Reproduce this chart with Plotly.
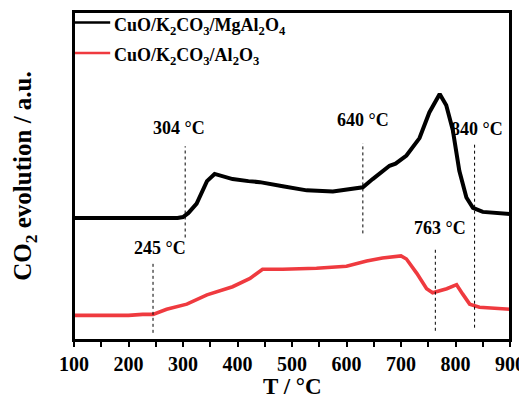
import plotly.graph_objects as go

# ---- data ----
T_black = [100, 150, 200, 250, 290, 300, 310, 325, 344, 358, 370, 391, 420, 441, 483, 527,
           575, 606, 630, 648, 679, 690, 710, 734, 752, 771, 783, 795, 807, 820, 832, 850, 893, 900]
y_black = [119, 119, 119, 119, 119, 120, 124, 133, 155, 162, 160, 157, 155, 154, 150, 146,
           145, 147, 149, 157, 170, 172, 180, 197, 222, 240, 229, 205, 165, 139, 129, 125, 123, 123]

T_red = [100, 150, 200, 226, 245, 270, 307, 344, 391, 423, 446, 483, 545, 600, 637, 666,
         692, 700, 710, 729, 747, 758, 784, 802, 813, 826, 844, 886, 900]
y_red = [24, 24, 24, 25, 25, 30, 35, 44, 52, 60, 69, 69, 70, 72, 77, 80,
         82, 82, 79, 65, 50, 46, 50, 54, 45, 35, 32, 30, 30]

series_names = ["CuO/K<sub>2</sub>CO<sub>3</sub>/MgAl<sub>2</sub>O<sub>4</sub>",
                "CuO/K<sub>2</sub>CO<sub>3</sub>/Al<sub>2</sub>O<sub>3</sub>"]

# marker temperatures (dotted guide lines) and their labels
marker_T = [304, 630, 835, 245, 763]
marker_y0 = [100, 104, 12, 7, 9]
marker_y1 = [189, 192, 192, 77, 89]
label_text = ["304 °C", "640 °C", "840 °C", "245 °C", "763 °C"]
label_T = [293, 630, 840, 257, 772]
label_y = [207, 215, 206, 90, 109]

x_ticks = [100, 200, 300, 400, 500, 600, 700, 800, 900]
x_title = "T / °C"
y_title = "CO<sub>2</sub> evolution / a.u."

FONT = "Liberation Serif, Times New Roman, serif"
BLACK = "#000000"
RED = "#ef3a3f"
colors = [BLACK, RED]

fig = go.Figure()
fig.add_trace(go.Scatter(x=T_black, y=y_black, mode="lines", name=series_names[0],
                         line=dict(color=BLACK, width=4), showlegend=False))
fig.add_trace(go.Scatter(x=T_red, y=y_red, mode="lines", name=series_names[1],
                         line=dict(color=RED, width=3.6), showlegend=False))

for t, a, b in zip(marker_T, marker_y0, marker_y1):
    fig.add_trace(go.Scatter(x=[t, t], y=[a, b], mode="lines", showlegend=False,
                             line=dict(color=BLACK, width=1, dash="dot"), hoverinfo="skip"))

for txt, t, yv in zip(label_text, label_T, label_y):
    fig.add_annotation(x=t, y=yv, text=txt, showarrow=False,
                       font=dict(family=FONT, size=18, color=BLACK, weight="bold"))

# legend (drawn as key lines + text at the top-left corner of the plot)
legend_rows = [0.968, 0.875]
for name, col, ly in zip(series_names, colors, legend_rows):
    fig.add_shape(type="line", xref="paper", yref="paper", x0=0, x1=0.083, y0=ly, y1=ly,
                  line=dict(color=col, width=2.5))
    fig.add_annotation(xref="paper", yref="paper", x=0.088, y=ly - 0.012, xanchor="left",
                       yanchor="middle", text=name, showarrow=False,
                       font=dict(family=FONT, size=18, color=BLACK, weight="bold"))

# x-axis title placed near the bottom edge of the figure
fig.add_annotation(xref="paper", yref="paper", x=0.5, y=-0.183, xanchor="center",
                   yanchor="bottom", text=x_title, showarrow=False, borderpad=0,
                   font=dict(family=FONT, size=23, color=BLACK, weight="bold"))

# closed frame round the plot area
fig.add_shape(type="rect", xref="paper", yref="paper", x0=0, x1=1, y0=0, y1=1,
              line=dict(color=BLACK, width=2), fillcolor="rgba(0,0,0,0)", layer="above")

# the page body adds an 8px offset, so the figure is 8px smaller than the window
fig.update_layout(
    width=519, height=390,
    margin=dict(l=66, r=17, t=4, b=58),
    paper_bgcolor="white", plot_bgcolor="white",
    font=dict(family=FONT, color=BLACK),
    showlegend=False,
    xaxis=dict(range=[100, 900], tickvals=x_ticks, ticktext=[str(v) for v in x_ticks],
               automargin=False,
               showline=True, linecolor=BLACK, linewidth=2, mirror=True,
               ticks="outside", ticklen=5, tickwidth=2, tickcolor=BLACK,
               minor=dict(dtick=50, ticks="outside", ticklen=5, tickwidth=2, tickcolor=BLACK),
               showgrid=False, zeroline=False,
               tickfont=dict(family=FONT, size=20, color=BLACK, weight="bold")),
    yaxis=dict(range=[0, 320], automargin=False,
               showline=True, linecolor=BLACK, linewidth=2, mirror=True,
               showticklabels=False, ticks="", showgrid=False, zeroline=False,
               title=dict(text=y_title, standoff=33,
                          font=dict(family=FONT, size=25, color=BLACK, weight="bold"))),
)

fig.write_html("out.html")
